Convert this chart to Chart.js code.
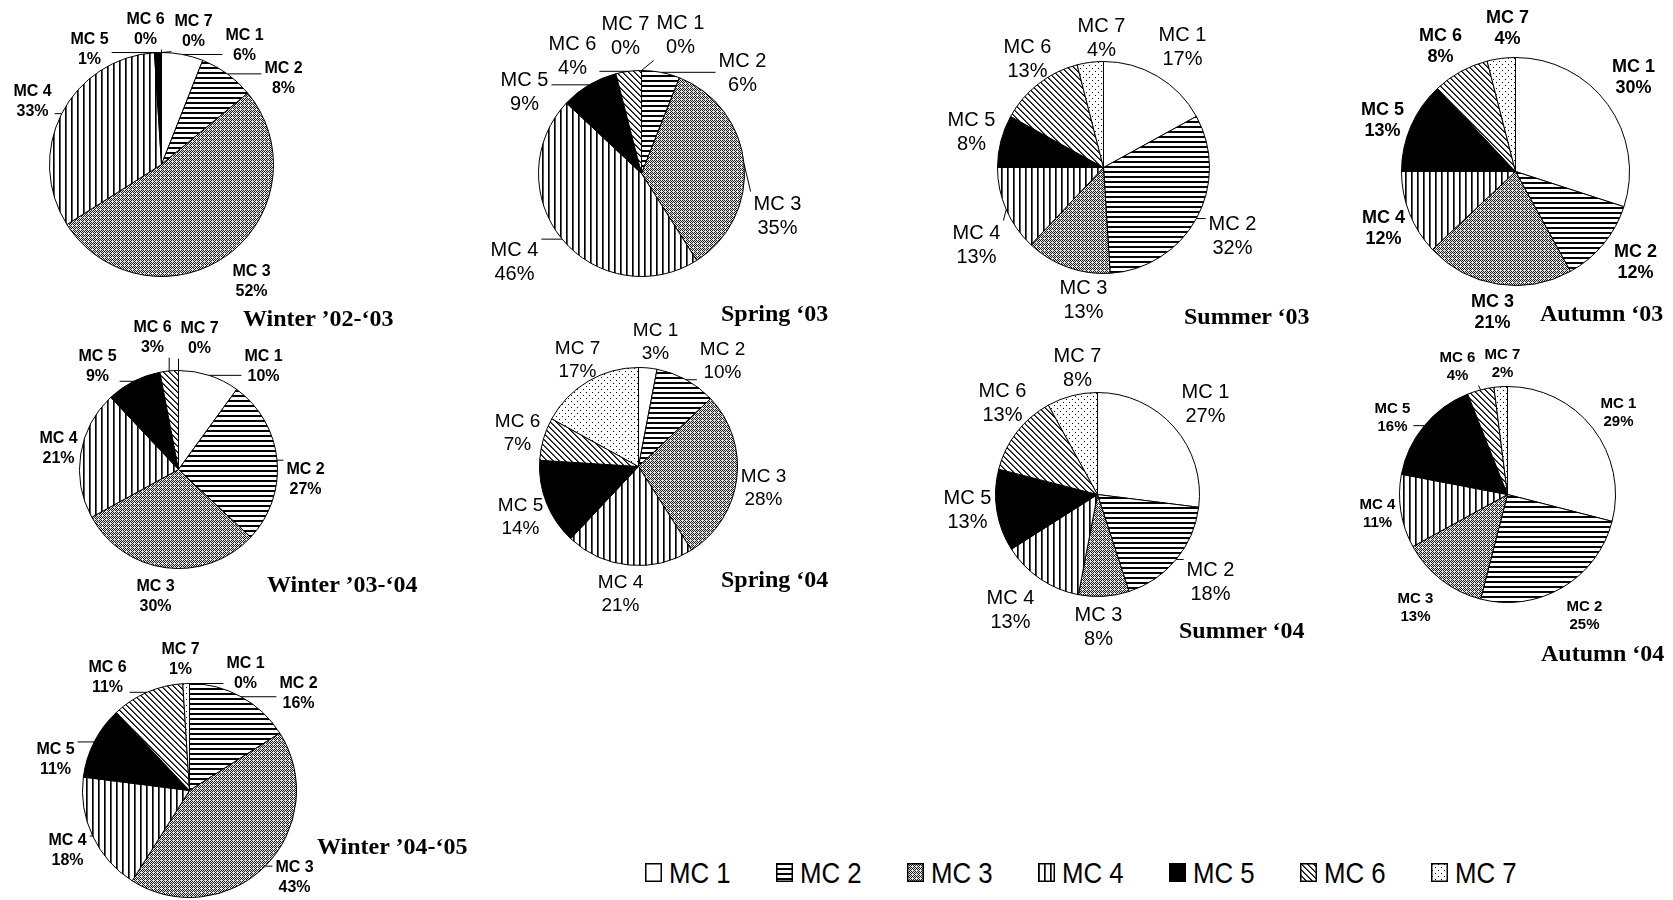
<!DOCTYPE html>
<html>
<head>
<meta charset="utf-8">
<script src="https://cdn.jsdelivr.net/npm/chart.js@4.4.1/dist/chart.umd.min.js"></script>
<style>
  html, body { margin: 0; padding: 0; background: #fff; }
  #page { position: relative; width: 1673px; height: 900px; overflow: hidden; background: #fff; }
  canvas.pie { position: absolute; }
  .titulo {
    position: absolute; white-space: nowrap; line-height: 1;
    font-family: "Liberation Serif", "Times New Roman", serif;
    font-weight: bold; font-size: 24px; transform: translateY(-50%);
  }
  .item { position: absolute; top: 873px; height: 30px; transform: translateY(-50%); }
  .item canvas { position: absolute; left: 0; top: 5px; }
  .item span {
    position: absolute; left: 24px; top: 0; white-space: nowrap; line-height: 30px;
    font-family: "Liberation Sans", Arial, sans-serif; font-size: 30px;
    transform: scaleX(0.86); transform-origin: left center;
  }
</style>
</head>
<body>
<div id="page"></div>
<script>
// categories and values (percent of each MC per season)
const categorias = ["MC 1", "MC 2", "MC 3", "MC 4", "MC 5", "MC 6", "MC 7"];
const titulos = ["Winter ’02-‘03", "Spring ‘03", "Summer ‘03", "Autumn ‘03",
  "Winter ’03-‘04", "Winter ’04-‘05", "Spring ‘04", "Summer ‘04", "Autumn ‘04"];

const winter0203 = [6, 8, 52, 33, 1, 0, 0];
const spring03 = [0, 6, 35, 46, 9, 4, 0];
const summer03 = [17, 32, 13, 13, 8, 13, 4];
const autumn03 = [30, 12, 21, 12, 13, 8, 4];
const winter0304 = [10, 27, 30, 21, 9, 3, 0];
const winter0405 = [0, 16, 43, 18, 11, 11, 1];
const spring04 = [3, 10, 28, 21, 14, 7, 17];
const summer04 = [27, 18, 8, 13, 13, 13, 8];
const autumn04 = [29, 25, 13, 11, 16, 4, 2];

// where each pie sits on the page, plus label placement
const pizzas = [
  { valores: winter0203, titulo: titulos[0], cx: 161, cy: 164, r: 112, tx: 243, ty: 318, fonte: 16, negrito: true,
    rotulos: [[244, 45], [283, 78], [251, 281], [32, 101], [89, 49], [145, 29], [193, 31]],
    linhas: [1, 1, 0, 1, 1, 1, 1] },
  { valores: spring03, titulo: titulos[1], cx: 641, cy: 173, r: 103, tx: 721, ty: 313, fonte: 20, negrito: false,
    rotulos: [[680, 35], [742, 73], [777, 216], [514, 262], [524, 92], [572, 56], [625, 36]],
    linhas: [1, 1, 1, 1, 1, 1, 0] },
  { valores: summer03, titulo: titulos[2], cx: 1103, cy: 167, r: 106, tx: 1184, ty: 316, fonte: 20, negrito: false,
    rotulos: [[1182, 47], [1232, 236], [1083, 300], [976, 245], [971, 132], [1027, 59], [1101, 38]],
    linhas: [0, 1, 0, 1, 0, 0, 0] },
  { valores: autumn03, titulo: titulos[3], cx: 1515, cy: 171, r: 114, tx: 1540, ty: 313, fonte: 18, negrito: true,
    rotulos: [[1633, 77], [1635, 262], [1492, 312], [1383, 228], [1382, 120], [1440, 46], [1507, 28]],
    linhas: [0, 0, 0, 0, 0, 0, 0] },
  { valores: winter0304, titulo: titulos[4], cx: 178, cy: 469, r: 99, tx: 267, ty: 584, fonte: 16, negrito: true,
    rotulos: [[263, 366], [305, 479], [155, 596], [58, 448], [97, 366], [152, 337], [199, 338]],
    linhas: [1, 1, 0, 0, 1, 1, 1] },
  { valores: winter0405, titulo: titulos[5], cx: 189, cy: 790, r: 107, tx: 317, ty: 846, fonte: 16, negrito: true,
    rotulos: [[245, 673], [298, 693], [294, 877], [67, 850], [55, 759], [107, 677], [180, 659]],
    linhas: [1, 1, 1, 1, 1, 1, 0] },
  { valores: spring04, titulo: titulos[6], cx: 638, cy: 466, r: 99, tx: 721, ty: 579, fonte: 19, negrito: false,
    rotulos: [[655, 342], [722, 361], [763, 488], [620, 594], [520, 517], [517, 433], [577, 360]],
    linhas: [0, 1, 0, 0, 0, 0, 0] },
  { valores: summer04, titulo: titulos[7], cx: 1097, cy: 494, r: 102, tx: 1179, ty: 630, fonte: 20, negrito: false,
    rotulos: [[1205, 404], [1210, 582], [1098, 627], [1010, 610], [967, 510], [1002, 403], [1077, 368]],
    linhas: [0, 1, 0, 0, 0, 0, 0] },
  { valores: autumn04, titulo: titulos[8], cx: 1507, cy: 494, r: 108, tx: 1541, ty: 653, fonte: 15, negrito: true,
    rotulos: [[1618, 412], [1584, 615], [1415, 607], [1377, 513], [1392, 417], [1457, 366], [1502, 363]],
    linhas: [0, 0, 0, 0, 1, 1, 0] },
];

// little bitmap tiles for the black & white hatching
function tile(w, h, fn) {
  const c = document.createElement("canvas");
  c.width = w; c.height = h;
  const g = c.getContext("2d");
  g.fillStyle = "#fff";
  g.fillRect(0, 0, w, h);
  for (let y = 0; y < h; y++) {
    for (let x = 0; x < w; x++) {
      const v = fn(x, y);
      if (v) { g.fillStyle = v; g.fillRect(x, y, 1, 1); }
    }
  }
  return c;
}

const pontilhado = [
  [1, 0, 1, 0],
  [0, 1, 0, 1],
  [1, 0, 1, 0],
  [0, 0, 0, 1],
];
const tiles = [
  null,
  tile(5, 5, (x, y) => (y % 5 < 2 ? "#000" : null)),
  tile(4, 4, (x, y) => (pontilhado[y][x] ? "#1e1e1e" : "#e4e4e4")),
  tile(6, 6, (x, y) => (x % 6 === 0 ? "#000" : x % 6 === 1 ? "#555" : null)),
  null,
  tile(6, 6, (x, y) => { const d = ((x - y) % 6 + 6) % 6; return d === 0 ? "#000" : d === 1 ? "#555" : null; }),
  tile(6, 6, (x, y) => ((x === 1 && y === 1) || (x === 4 && y === 4) ? "#000" : null)),
];

function preenchimentos(ctx) {
  return tiles.map((t, i) => {
    if (i === 0) return "#fff";
    if (i === 4) return "#000";
    return ctx.createPattern(t, "repeat");
  });
}

// draws "MC n / x%" labels with leader lines
const rotulosPlugin = {
  id: "rotulos",
  afterDatasetsDraw(chart, args, opts) {
    const ctx = chart.ctx;
    const meta = chart.getDatasetMeta(0);
    const dados = chart.data.datasets[0].data;
    const lh = opts.fonte * 1.2;
    ctx.save();
    ctx.font = (opts.negrito ? "bold " : "") + opts.fonte + 'px "Liberation Sans", Arial, sans-serif';
    ctx.fillStyle = "#000";
    ctx.strokeStyle = "#000";
    ctx.lineWidth = 1;
    ctx.textAlign = "center";
    ctx.textBaseline = "middle";
    meta.data.forEach((arc, i) => {
      const x = opts.pos[i][0] - opts.ox;
      const y = opts.pos[i][1] - opts.oy;
      const l1 = chart.data.labels[i];
      const l2 = dados[i] + "%";
      if (opts.linhas[i]) {
        const meio = (arc.startAngle + arc.endAngle) / 2;
        const ax = arc.x + Math.cos(meio) * arc.outerRadius;
        const ay = arc.y + Math.sin(meio) * arc.outerRadius;
        const w = Math.max(ctx.measureText(l1).width, ctx.measureText(l2).width) / 2 + 3;
        const h = lh + 1;
        const bx = Math.min(Math.max(ax, x - w), x + w);
        const by = Math.min(Math.max(ay, y - h), y + h);
        ctx.beginPath();
        ctx.moveTo(ax, ay);
        ctx.lineTo(bx, by);
        ctx.stroke();
      }
      ctx.fillText(l1, x, y - lh / 2);
      ctx.fillText(l2, x, y + lh / 2);
    });
    ctx.restore();
  },
};

const pagina = document.getElementById("page");
const MX = 170, MY = 90;

pizzas.forEach((p) => {
  const canvas = document.createElement("canvas");
  canvas.className = "pie";
  const lado = 2 * p.r + 1;
  const W = lado + 2 * MX, H = lado + 2 * MY;
  const ox = p.cx - p.r - MX - 0.5, oy = p.cy - p.r - MY - 0.5;
  canvas.width = W; canvas.height = H;
  canvas.style.width = W + "px"; canvas.style.height = H + "px";
  canvas.style.left = ox + "px"; canvas.style.top = oy + "px";
  pagina.appendChild(canvas);

  const ctx = canvas.getContext("2d");
  new Chart(ctx, {
    type: "pie",
    data: {
      labels: categorias,
      datasets: [{
        data: p.valores,
        backgroundColor: preenchimentos(ctx),
        borderColor: "#000",
        borderWidth: 1,
      }],
    },
    options: {
      responsive: false,
      animation: false,
      events: [],
      layout: { padding: { left: MX, right: MX, top: MY, bottom: MY } },
      plugins: {
        legend: { display: false },
        tooltip: { enabled: false },
        rotulos: { pos: p.rotulos, linhas: p.linhas, fonte: p.fonte, negrito: p.negrito, ox: ox, oy: oy },
      },
    },
    plugins: [rotulosPlugin],
  });

  const t = document.createElement("div");
  t.className = "titulo";
  t.textContent = p.titulo;
  t.style.left = p.tx + "px";
  t.style.top = p.ty + "px";
  pagina.appendChild(t);
});

// legend along the bottom
categorias.forEach((nome, i) => {
  const item = document.createElement("div");
  item.className = "item";
  item.style.left = (645 + i * 131) + "px";
  const sw = document.createElement("canvas");
  sw.width = 17; sw.height = 19;
  const g = sw.getContext("2d");
  g.fillStyle = preenchimentos(g)[i];
  g.fillRect(0, 0, 17, 19);
  g.strokeStyle = "#000";
  g.lineWidth = 1.5;
  g.strokeRect(0.75, 0.75, 15.5, 17.5);
  item.appendChild(sw);
  const s = document.createElement("span");
  s.textContent = nome;
  item.appendChild(s);
  pagina.appendChild(item);
});
</script>
</body>
</html>
